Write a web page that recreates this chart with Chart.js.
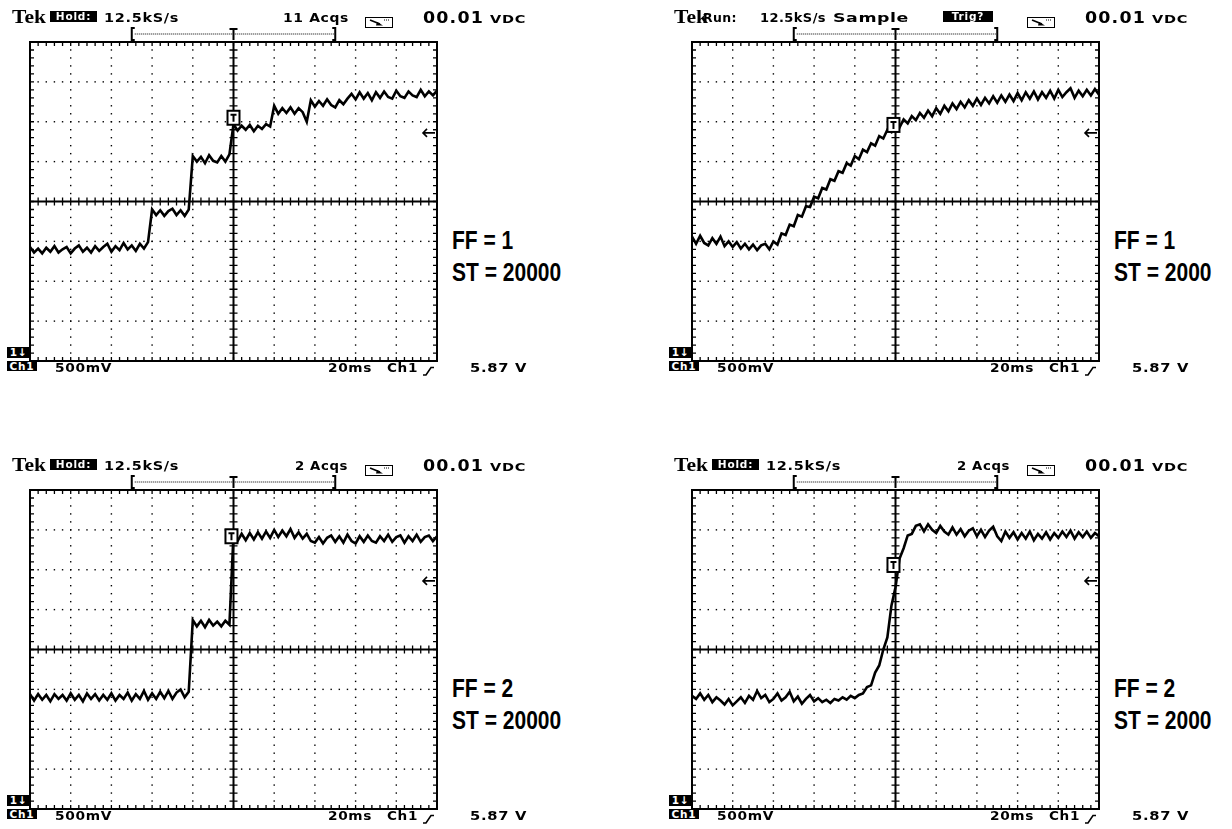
<!DOCTYPE html>
<html>
<head>
<meta charset="utf-8">
<script src="https://cdn.jsdelivr.net/npm/chart.js@4.4.1/dist/chart.umd.min.js"></script>
<style>
  body { margin: 0; background: #fff; width: 1232px; height: 829px; overflow: hidden; position: relative; }
  .panel { position: absolute; width: 407px; height: 319px; }
  .panel canvas { position: absolute; left: -12px; top: -22px; }
  .t { position: absolute; white-space: nowrap; color: #000; line-height: 1; transform-origin: 0 0; }
  .bl { display: inline-block; width: 0; height: 0; vertical-align: baseline; }
  .tek { font: bold 18px "Liberation Serif", serif; }
  .scope { font: bold 13px "DejaVu Sans", sans-serif; letter-spacing: 0.6px; }
  .scope2 { font: bold 12px "DejaVu Sans", sans-serif; letter-spacing: 0.4px; }
  .big { font: bold 15px "DejaVu Sans", sans-serif; letter-spacing: 1px; }
  .small { font: bold 10px "DejaVu Sans", sans-serif; letter-spacing: 0.5px; }
  .lab { font: bold 25px "Liberation Sans", Arial, sans-serif; transform: scaleX(0.84); }
  .inv { position: absolute; background: #000; color: #fff; font: bold 10.5px "DejaVu Sans", sans-serif;
         text-align: center; letter-spacing: 0.8px; overflow: hidden; }
  .ico { position: absolute; }
</style>
</head>
<body>
<script>
// time axis, ms (20 ms/div, trigger at 0)
const timeMs = [-100,-98,-96,-94,-92,-90,-88,-86,-84,-82,-80,-78,-76,-74,-72,-70,-68,-66,-64,-62,
  -60,-58,-56,-54,-52,-50,-48,-46,-44,-42,-40,-38,-36,-34,-32,-30,-28,-26,-24,-22,
  -20,-18,-16,-14,-12,-10,-8,-6,-4,-2,0,2,4,6,8,10,12,14,16,18,
  20,22,24,26,28,30,32,34,36,38,40,42,44,46,48,50,52,54,56,58,
  60,62,64,66,68,70,72,74,76,78,80,82,84,86,88,90,92,94,96,98,100];

// Ch1 volts relative to screen centre (500 mV/div)
const voltsFF1ST20000 = [
  -0.57,-0.64,-0.59,-0.65,-0.58,-0.63,-0.56,-0.64,-0.60,-0.57,-0.65,-0.59,-0.55,-0.63,-0.58,
  -0.64,-0.56,-0.62,-0.57,-0.53,-0.63,-0.56,-0.61,-0.52,-0.60,-0.55,-0.62,-0.53,-0.59,-0.51,
  -0.10,-0.17,-0.11,-0.18,-0.12,-0.09,-0.17,-0.11,-0.18,-0.10,
  0.57,0.50,0.56,0.48,0.58,0.51,0.49,0.57,0.50,0.59,
  0.97,0.89,0.95,0.90,0.96,0.88,0.95,0.91,0.97,0.94,
  1.20,1.10,1.17,1.11,1.18,1.10,1.17,1.12,1.00,
  1.27,1.19,1.26,1.20,1.28,1.21,1.18,1.27,1.22,1.29,
  1.35,1.28,1.37,1.29,1.36,1.27,1.37,1.30,1.38,1.31,1.29,1.39,1.32,1.30,1.38,1.33,1.31,1.40,1.32,1.38,1.33,1.39];

const voltsFF1ST2000 = [
  -0.44,-0.53,-0.43,-0.52,-0.55,-0.46,-0.53,-0.44,-0.56,-0.50,-0.57,-0.51,-0.59,-0.53,-0.60,-0.54,-0.61,-0.55,-0.53,-0.60,
  -0.50,-0.54,-0.40,-0.42,-0.29,-0.31,-0.17,-0.19,-0.06,-0.07,0.06,0.04,0.17,0.15,0.28,0.26,0.38,0.36,0.48,0.45,
  0.57,0.53,0.65,0.62,0.73,0.70,0.82,0.79,0.90,0.87,
  0.98,0.93,1.03,0.98,1.07,1.02,1.11,1.05,1.14,1.07,1.17,1.10,1.20,1.13,1.23,1.16,1.25,1.18,1.27,1.20,
  1.29,1.21,1.30,1.23,1.32,1.24,1.33,1.25,1.34,1.26,
  1.36,1.27,1.37,1.29,1.38,1.28,1.37,1.30,1.39,1.29,1.40,1.31,1.37,1.42,1.30,1.39,1.32,1.40,1.33,1.41,1.34];

const voltsFF2ST20000 = [
  -0.56,-0.64,-0.56,-0.63,-0.57,-0.65,-0.56,-0.62,-0.57,-0.64,-0.55,-0.63,-0.57,-0.65,-0.55,-0.62,-0.56,-0.64,-0.57,-0.63,
  -0.55,-0.64,-0.57,-0.62,-0.54,-0.64,-0.56,-0.62,-0.52,-0.63,-0.55,-0.62,-0.53,-0.61,-0.52,-0.62,-0.54,-0.50,-0.60,-0.53,
  0.37,0.29,0.36,0.28,0.37,0.30,0.35,0.29,0.36,0.31,
  1.44,1.36,1.45,1.37,1.46,1.38,1.47,1.39,1.48,1.40,1.50,1.41,1.49,1.42,1.51,1.40,1.47,1.39,1.45,1.36,
  1.34,1.41,1.33,1.40,1.43,1.35,1.42,1.34,1.44,1.36,1.33,1.42,1.35,1.43,1.36,1.34,1.42,1.36,1.44,1.35,
  1.41,1.43,1.34,1.42,1.36,1.44,1.35,1.41,1.43,1.36,1.42];

const voltsFF2ST2000 = [
  -0.58,-0.62,-0.55,-0.63,-0.57,-0.66,-0.60,-0.64,-0.69,-0.62,-0.70,-0.65,-0.60,-0.67,-0.58,-0.63,-0.52,-0.61,-0.57,-0.66,
  -0.62,-0.55,-0.64,-0.60,-0.53,-0.65,-0.59,-0.68,-0.62,-0.57,-0.65,-0.61,-0.66,-0.63,-0.67,-0.62,-0.64,-0.60,-0.63,-0.58,
  -0.61,-0.57,
  -0.55,-0.47,-0.45,-0.29,-0.20,0.00,0.15,0.55,0.78,1.14,1.27,1.43,1.45,1.55,
  1.57,1.48,1.57,1.50,1.46,1.55,1.48,1.44,1.53,1.44,1.51,1.42,1.49,1.52,1.42,1.50,1.41,1.49,1.54,1.42,
  1.36,1.48,1.40,1.47,1.38,1.46,1.39,1.48,1.37,1.45,1.39,1.47,1.38,1.46,1.40,1.48,1.41,1.49,1.39,1.47,
  1.41,1.48,1.40,1.46,1.42];

const traces = [voltsFF1ST20000, voltsFF1ST2000, voltsFF2ST20000, voltsFF2ST2000];
// trigger point marker [ms, V] and trigger level (V)
const triggerMarks = [[0, 1.05], [-1, 0.96], [-1, 1.42], [-1, 1.06]];
const triggerLevel = 0.86;

const statusWord = ['Hold', 'Run', 'Hold', 'Hold'];
const acqLabels = ['11 Acqs', null, '2 Acqs', '2 Acqs'];
const ffLabels = ['FF = 1', 'FF = 1', 'FF = 2', 'FF = 2'];
const stLabels = ['ST = 20000', 'ST = 2000', 'ST = 20000', 'ST = 2000'];
const panelPos = [[30, 42], [692, 42], [30, 490], [692, 490]];

const scopeGrid = {
  id: 'scopeGrid',
  beforeDatasetsDraw(chart) {
    const { ctx, chartArea: a, scales: { x, y } } = chart;
    const cx = x.getPixelForValue(0), cy = y.getPixelForValue(0);
    ctx.save();
    ctx.fillStyle = '#000';
    ctx.strokeStyle = '#000';
    // dotted graticule
    for (let i = 1; i < 10; i++) {
      if (i === 5) continue;
      const px = x.getPixelForValue(-100 + i * 20);
      for (let j = 1; j < 40; j++) {
        ctx.fillRect(px - 0.7, y.getPixelForValue(-2 + j * 0.1) - 0.7, 1.4, 1.4);
      }
    }
    for (let j = 1; j < 8; j++) {
      if (j === 4) continue;
      const py = y.getPixelForValue(-2 + j * 0.5);
      for (let i = 1; i < 50; i++) {
        ctx.fillRect(x.getPixelForValue(-100 + i * 4) - 0.7, py - 0.7, 1.4, 1.4);
      }
    }
    // frame and centre cross
    ctx.lineWidth = 2;
    ctx.strokeRect(a.left, a.top, a.right - a.left, a.bottom - a.top);
    ctx.beginPath();
    ctx.moveTo(cx, a.top); ctx.lineTo(cx, a.bottom);
    ctx.moveTo(a.left, cy); ctx.lineTo(a.right, cy);
    ctx.stroke();
    // minor ticks
    ctx.lineWidth = 1.3;
    ctx.beginPath();
    for (let i = 1; i < 50; i++) {
      const px = x.getPixelForValue(-100 + i * 4);
      ctx.moveTo(px, a.top); ctx.lineTo(px, a.top + 4);
      ctx.moveTo(px, a.bottom); ctx.lineTo(px, a.bottom - 4);
      ctx.moveTo(px, cy - 4); ctx.lineTo(px, cy + 4);
    }
    for (let j = 1; j < 40; j++) {
      const py = y.getPixelForValue(-2 + j * 0.1);
      ctx.moveTo(a.left, py); ctx.lineTo(a.left + 4, py);
      ctx.moveTo(a.right, py); ctx.lineTo(a.right - 4, py);
      ctx.moveTo(cx - 4, py); ctx.lineTo(cx + 4, py);
    }
    ctx.stroke();
    // record bracket above the graticule
    const bl = x.getPixelForValue(-50), br = x.getPixelForValue(50);
    ctx.lineWidth = 2;
    ctx.beginPath();
    ctx.moveTo(bl + 3, a.top - 14); ctx.lineTo(bl, a.top - 14); ctx.lineTo(bl, a.top - 2); ctx.lineTo(bl + 3, a.top - 2);
    ctx.moveTo(br - 3, a.top - 14); ctx.lineTo(br, a.top - 14); ctx.lineTo(br, a.top - 2); ctx.lineTo(br - 3, a.top - 2);
    ctx.moveTo(cx - 4, a.top - 13); ctx.lineTo(cx + 4, a.top - 13);
    ctx.moveTo(cx, a.top - 13); ctx.lineTo(cx, a.top - 2);
    ctx.stroke();
    for (let px = bl + 3; px < br - 2; px += 2) ctx.fillRect(px, a.top - 8.5, 1, 1);
    // trigger level arrow
    const ly = y.getPixelForValue(triggerLevel);
    ctx.lineWidth = 1.6;
    ctx.beginPath();
    ctx.moveTo(a.right - 14, ly); ctx.lineTo(a.right - 2, ly);
    ctx.moveTo(a.right - 10, ly - 4); ctx.lineTo(a.right - 14, ly); ctx.lineTo(a.right - 10, ly + 4);
    ctx.stroke();
    ctx.restore();
  },
  afterDatasetsDraw(chart) {
    const { ctx, scales: { x, y } } = chart;
    const m = triggerMarks[chart.options.panelIndex];
    const px = x.getPixelForValue(m[0]), py = y.getPixelForValue(m[1]);
    ctx.save();
    ctx.fillStyle = '#fff';
    ctx.fillRect(px - 6, py - 7, 12, 14);
    ctx.strokeStyle = '#000';
    ctx.lineWidth = 2;
    ctx.strokeRect(px - 6, py - 7, 12, 14);
    ctx.beginPath();
    ctx.moveTo(px - 3, py - 3); ctx.lineTo(px + 3, py - 3);
    ctx.moveTo(px, py - 3); ctx.lineTo(px, py + 4);
    ctx.stroke();
    ctx.restore();
  }
};

// x = left edge, y = baseline, w = width the text should span (glyphs widened to fit, like the scope font)
function placeText(parent, text, x, y, cls, w) {
  const d = document.createElement('div');
  d.className = 't ' + cls;
  d.appendChild(document.createTextNode(text));
  const m = document.createElement('span');
  m.className = 'bl';
  d.appendChild(m);
  parent.appendChild(d);
  d.style.left = x + 'px';
  d.style.top = '0px';
  if (w) {
    const nat = d.getBoundingClientRect().width;
    d.style.transform = 'scaleX(' + (w / nat) + ')';
  }
  d.style.top = (y - m.offsetTop) + 'px';
}

function invBox(parent, text, x, y, w, h) {
  const d = document.createElement('div');
  d.className = 'inv';
  d.textContent = text;
  Object.assign(d.style, { left: x + 'px', top: y + 'px', width: w + 'px', height: h + 'px', lineHeight: h + 'px' });
  parent.appendChild(d);
}

function icon(parent, svg, x, y) {
  const d = document.createElement('div');
  d.className = 'ico';
  d.innerHTML = svg;
  d.style.left = x + 'px';
  d.style.top = y + 'px';
  parent.appendChild(d);
}

const meterSvg = '<svg width="29" height="11"><rect x="0.5" y="0.5" width="27" height="10" fill="none" stroke="#000"/>' +
  '<path d="M5 3 L15 7" stroke="#000" stroke-width="1.6"/><path d="M12 5 L18 8.5 L11 8.5 Z" fill="#000"/>' +
  '<path d="M19 3 H24" stroke="#000" stroke-dasharray="1 1"/></svg>';
const edgeSvg = '<svg width="12" height="10"><path d="M0 9 H3 L8 1.5 H11" stroke="#000" stroke-width="1.6" fill="none"/></svg>';

panelPos.forEach(([L, T], k) => {
  const p = document.createElement('div');
  p.className = 'panel';
  p.style.left = L + 'px';
  p.style.top = T + 'px';
  document.body.appendChild(p);

  const cv = document.createElement('canvas');
  cv.width = 431; cv.height = 353;
  p.appendChild(cv);

  // header
  placeText(p, 'Tek', -18, -19, 'tek', 34);
  if (statusWord[k] === 'Run') {
    placeText(p, 'Run:', 11, -20, 'scope2', 34);
    placeText(p, '12.5kS/s', 68, -20, 'scope2', 66);
    placeText(p, 'Sample', 141, -20, 'scope2', 76);
    invBox(p, 'Trig?', 251, -31, 50, 11);
  } else {
    invBox(p, 'Hold:', 20, -31, 47, 11);
    placeText(p, '12.5kS/s', 74, -20, 'scope', 75);
    placeText(p, acqLabels[k], k === 0 ? 253 : 265, -20, 'scope', k === 0 ? 66 : 53);
  }
  icon(p, meterSvg, 335, -28);
  placeText(p, '00.01', 393, -19, 'big', 61);
  placeText(p, 'VDC', 460, -19, 'small', 36);

  // footer
  invBox(p, '1\u2193', -23, 305, 23, 11);
  invBox(p, 'Ch1', -23, 319, 30, 10);
  placeText(p, '500mV', 25, 330, 'scope', 57);
  placeText(p, '20ms', 298, 330, 'scope', 44);
  placeText(p, 'Ch1', 357, 330, 'scope', 31);
  icon(p, edgeSvg, 393, 320);
  placeText(p, '5.87 V', 440, 330, 'scope', 57);

  // settings labels
  placeText(p, ffLabels[k], 422, 207, 'lab');
  placeText(p, stLabels[k], 422, 239, 'lab');

  new Chart(cv, {
    type: 'line',
    data: {
      datasets: [{
        data: timeMs.map((t, i) => ({ x: t, y: traces[k][i] })),
        borderColor: '#000',
        borderWidth: 2.6,
        pointRadius: 0,
        tension: 0,
        fill: false
      }]
    },
    options: {
      panelIndex: k,
      responsive: false,
      animation: false,
      devicePixelRatio: 1,
      events: [],
      layout: { padding: { left: 12, right: 12, top: 22, bottom: 12 } },
      plugins: { legend: { display: false }, tooltip: { enabled: false } },
      scales: {
        x: { type: 'linear', min: -100, max: 100, display: false },
        y: { type: 'linear', min: -2, max: 2, display: false }
      }
    },
    plugins: [scopeGrid]
  });
});
</script>
</body>
</html>
